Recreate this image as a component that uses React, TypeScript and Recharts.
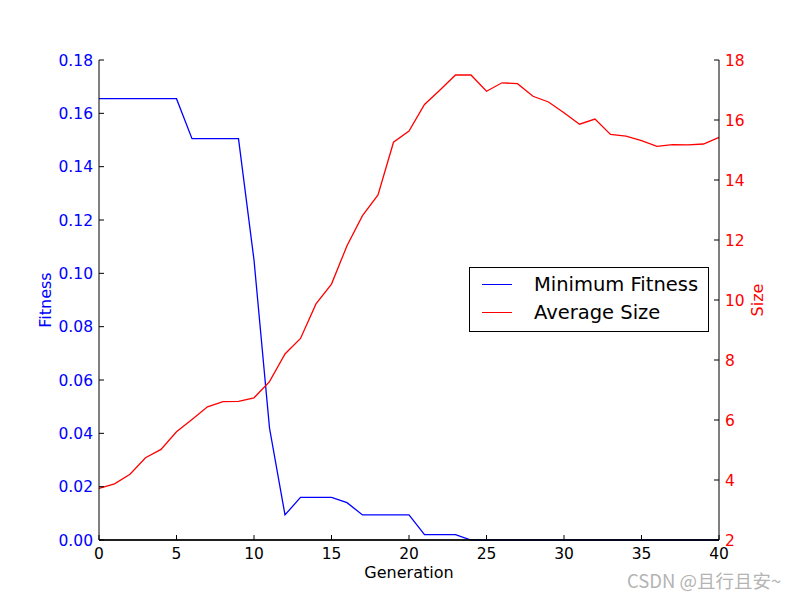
import React from "react";
import {
  LineChart,
  Line,
  XAxis,
  YAxis,
  Legend,
  ReferenceLine,
} from "recharts";

const generations = [
  0, 1, 2, 3, 4, 5, 6, 7, 8, 9, 10, 11, 12, 13, 14, 15, 16, 17, 18, 19, 20,
  21, 22, 23, 24, 25, 26, 27, 28, 29, 30, 31, 32, 33, 34, 35, 36, 37, 38, 39, 40,
];

const minFitness = [
  0.1655, 0.1655, 0.1655, 0.1655, 0.1655, 0.1655, 0.1505, 0.1505, 0.1505,
  0.1505, 0.105, 0.042, 0.0094, 0.016, 0.016, 0.016, 0.014, 0.0094, 0.0094,
  0.0094, 0.0094, 0.002, 0.002, 0.002, 0, 0, 0, 0, 0, 0, 0, 0, 0, 0, 0, 0, 0,
  0, 0, 0, 0,
];

const avgSize = [
  3.72, 3.87, 4.19, 4.74, 5.02, 5.61, 6.02, 6.44, 6.61, 6.62, 6.74, 7.28, 8.2,
  8.72, 9.87, 10.53, 11.81, 12.81, 13.5, 15.26, 15.63, 16.52, 17.0, 17.5, 17.5,
  16.96, 17.24, 17.21, 16.79, 16.6, 16.24, 15.86, 16.03, 15.52, 15.46, 15.31,
  15.12, 15.18, 15.17, 15.2, 15.42,
];

const xTicks = [0, 5, 10, 15, 20, 25, 30, 35, 40];
const fitnessTicks = [0, 0.02, 0.04, 0.06, 0.08, 0.1, 0.12, 0.14, 0.16, 0.18];
const sizeTicks = [2, 4, 6, 8, 10, 12, 14, 16, 18];

const BLUE = "#0000ff";
const RED = "#ff0000";
const FONT = "'DejaVu Sans', sans-serif";

const data = generations.map((g, i) => ({
  gen: g,
  fitness: minFitness[i],
  size: avgSize[i],
}));

function LegendBox() {
  const rows = [
    { label: "Minimum Fitness", color: BLUE },
    { label: "Average Size", color: RED },
  ];
  return (
    <div
      style={{
        border: "1px solid #000",
        background: "#fff",
        width: 238,
        height: 61,
        boxSizing: "content-box",
        fontFamily: FONT,
        fontSize: 19.5,
        color: "#000",
        paddingTop: 2,
      }}
    >
      {rows.map((r) => (
        <div
          key={r.label}
          style={{ display: "flex", alignItems: "center", height: 28.5 }}
        >
          <div
            style={{
              width: 30,
              height: 1,
              background: r.color,
              marginLeft: 12,
              marginRight: 22,
            }}
          />
          <span>{r.label}</span>
        </div>
      ))}
    </div>
  );
}

export default function App() {
  return (
    <div
      style={{
        position: "absolute",
        left: 0,
        top: 0,
        width: 800,
        height: 600,
        background: "#fff",
      }}
    >
      <LineChart
        width={800}
        height={600}
        data={data}
        margin={{ top: 60, right: 0, bottom: 0, left: 0 }}
      >
        <XAxis
          xAxisId="top"
          orientation="top"
          dataKey="gen"
          type="number"
          domain={[0, 40]}
          ticks={xTicks}
          height={0}
          tick={false}
          tickSize={-5}
          axisLine={{ stroke: "#000" }}
          tickLine={{ stroke: "#000" }}
        />
        <YAxis
          yAxisId="left"
          orientation="left"
          domain={[0, 0.18]}
          ticks={fitnessTicks}
          width={99}
          tickSize={-5}
          tickMargin={11}
          tickFormatter={(v: number) => v.toFixed(2)}
          tick={{ fontSize: 15.5, fill: BLUE, fontFamily: FONT }}
          axisLine={{ stroke: "#000" }}
          tickLine={{ stroke: "#000" }}
          label={{
            content: ({ viewBox }: any) => (
              <text
                x={viewBox.x + 51}
                y={viewBox.y + viewBox.height / 2}
                transform={`rotate(-90 ${viewBox.x + 51} ${viewBox.y + viewBox.height / 2})`}
                textAnchor="middle"
                fill={BLUE}
                fontSize={16}
                fontFamily={FONT}
              >
                Fitness
              </text>
            ),
          }}
        />
        <YAxis
          yAxisId="right"
          orientation="right"
          domain={[2, 18]}
          ticks={sizeTicks}
          width={81}
          tickSize={-5}
          tickMargin={11}
          tick={{ fontSize: 15.5, fill: RED, fontFamily: FONT }}
          axisLine={{ stroke: "#000" }}
          tickLine={{ stroke: "#000" }}
          label={{
            content: ({ viewBox }: any) => (
              <text
                x={viewBox.x + 44}
                y={viewBox.y + viewBox.height / 2}
                transform={`rotate(-90 ${viewBox.x + 44} ${viewBox.y + viewBox.height / 2})`}
                textAnchor="middle"
                fill={RED}
                fontSize={16}
                fontFamily={FONT}
              >
                Size
              </text>
            ),
          }}
        />
        <Line
          yAxisId="left"
          type="linear"
          dataKey="fitness"
          stroke={BLUE}
          strokeWidth={1.3}
          dot={false}
          isAnimationActive={false}
        />
        <Line
          yAxisId="right"
          type="linear"
          dataKey="size"
          stroke={RED}
          strokeWidth={1.3}
          dot={false}
          isAnimationActive={false}
        />
        <ReferenceLine yAxisId="left" y={0} stroke="#000" strokeWidth={1.3} />
        <XAxis
          dataKey="gen"
          type="number"
          domain={[0, 40]}
          ticks={xTicks}
          height={60}
          tickSize={-5}
          tickMargin={13}
          tick={{ fontSize: 15.5, fill: "#000", fontFamily: FONT }}
          axisLine={{ stroke: "#000" }}
          tickLine={{ stroke: "#000" }}
          label={{
            value: "Generation",
            position: "insideBottom",
            offset: 22,
            fill: "#000",
            fontSize: 16,
            fontFamily: FONT,
          }}
        />
        <Legend
          layout="horizontal"
          verticalAlign="middle"
          align="center"
          content={() => <LegendBox />}
          wrapperStyle={{ left: 469, top: 267, width: 240, height: 63 }}
        />
      </LineChart>
      <div
        style={{
          position: "absolute",
          left: 627,
          top: 567,
          fontFamily: "'Noto Sans CJK SC', sans-serif",
          fontSize: 18.5,
          color: "#b4b4b4",
          whiteSpace: "nowrap",
        }}
      >
        CSDN @且行且安~
      </div>
    </div>
  );
}
